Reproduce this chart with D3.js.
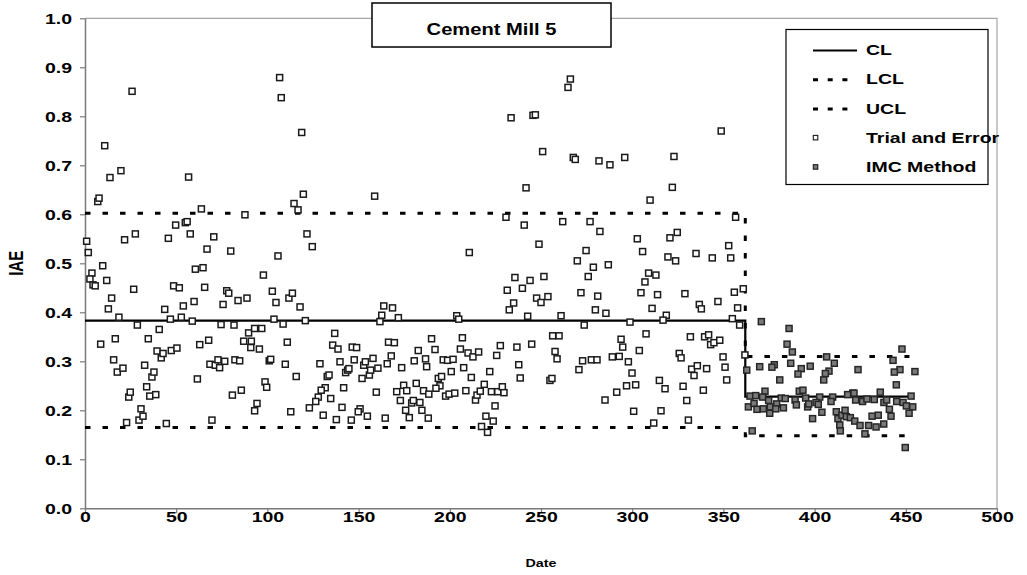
<!DOCTYPE html>
<html><head><meta charset="utf-8">
<script src="https://cdn.jsdelivr.net/npm/d3@7"></script>
<style>
body{margin:0;background:#fff}
text{font-family:"Liberation Sans",Arial,sans-serif;font-weight:bold;fill:#000}
</style></head>
<body><svg id="chart" width="1027" height="575"></svg>
<script>
const chartTitle = "Cement Mill 5";
const xTicks = [0,50,100,150,200,250,300,350,400,450,500];
const yTicks = [0,0.1,0.2,0.3,0.4,0.5,0.6,0.7,0.8,0.9,1.0];
const legendLabels = ["CL","LCL","UCL","Trial and Error","IMC Method"];

const trialDate = [
25.8,10.8,13.7,19.7,56.8,7.0,7.7,63.8,87.7,49.7,
55.0,56.0,0.9,21.7,27.6,45.7,57.7,70.6,1.8,66.9,
79.9,9.7,60.5,64.7,3.8,2.7,4.4,5.6,11.9,14.6,
12.8,18.6,26.7,28.7,8.6,16.6,15.7,17.7,20.8,24.0,
24.8,22.8,29.6,31.8,30.7,32.7,33.8,35.5,36.7,37.8,
38.8,34.7,40.7,43.7,39.5,41.8,42.8,44.6,47.3,50.4,
46.8,48.6,51.7,52.8,53.9,59.8,58.8,65.6,61.6,62.9,
67.8,69.6,68.5,71.4,72.9,73.8,76.6,75.7,77.7,78.8,
74.6,81.7,80.8,85.7,82.2,84.8,83.9,88.8,89.7,93.0,
87.0,91.2,90.9,93.0,94.3,106.7,107.6,118.8,119.7,114.6,
116.8,158.8,121.7,124.6,105.8,97.8,102.7,104.7,111.8,113.7,
117.9,103.6,108.6,120.8,96.9,95.6,110.9,101.0,101.8,109.8,
115.8,98.7,99.6,112.8,128.8,132.8,133.8,136.9,135.8,138.7,
139.8,131.7,129.5,127.9,126.5,123.0,134.7,130.6,137.8,141.8,
140.9,142.9,144.0,144.7,146.0,146.5,148.9,147.6,152.8,153.7,
155.9,151.9,156.6,157.9,160.6,150.8,149.8,154.8,159.7,164.6,
163.8,168.6,162.7,161.7,171.8,166.4,169.6,165.7,167.9,173.6,
170.9,174.7,176.4,172.9,175.8,177.8,179.1,180.0,181.6,183.6,
184.7,185.6,188.5,188.2,182.7,180.5,186.7,187.3,190.0,266.1,
264.8,233.6,245.6,246.9,250.9,267.7,268.8,281.8,241.8,230.8,
240.8,261.9,276.9,282.3,210.7,248.9,274.7,269.9,278.7,275.9,
235.7,244.0,251.6,239.8,231.5,247.6,250.0,253.8,235.0,232.6,
271.9,281.1,279.8,203.8,204.9,242.7,261.0,273.7,206.9,191.9,
205.8,196.4,198.8,201.8,210.0,212.7,215.8,225.7,227.7,236.8,
244.9,237.8,238.6,207.6,200.8,211.8,221.9,257.7,258.8,256.4,
259.9,270.8,272.8,277.6,280.7,254.9,256.0,193.7,195.5,194.6,
192.4,197.7,199.6,202.7,208.8,214.1,214.9,216.7,218.9,222.8,
226.3,228.8,229.7,224.8,219.8,223.8,217.4,220.7,348.8,287.8,
295.9,322.9,322.0,309.8,356.7,302.8,320.7,324.7,305.7,319.6,
323.8,335.0,343.9,352.9,354.0,286.9,309.0,313.0,307.0,304.8,
313.9,328.9,285.6,336.8,337.9,347.0,356.0,360.9,357.8,310.9,
298.8,318.7,316.9,354.9,358.9,307.6,293.9,294.8,303.9,289.1,
292.9,297.9,299.9,296.9,301.9,291.5,285.1,300.8,311.8,315.8,
314.9,318.0,327.9,329.9,330.8,325.8,326.8,331.9,332.6,335.7,
333.9,340.8,339.0,339.7,341.9,343.0,344.8,348.0,349.8,350.9,
351.8,361.8];
const trialIAE = [
0.851,0.740,0.675,0.689,0.676,0.626,0.633,0.611,0.599,0.578,
0.583,0.585,0.545,0.548,0.560,0.551,0.560,0.554,0.522,0.529,
0.525,0.495,0.488,0.491,0.480,0.468,0.456,0.454,0.465,0.429,
0.407,0.390,0.447,0.374,0.335,0.346,0.303,0.278,0.286,0.227,
0.237,0.175,0.180,0.188,0.203,0.292,0.248,0.229,0.268,0.278,
0.232,0.346,0.365,0.406,0.321,0.307,0.316,0.173,0.322,0.327,
0.386,0.454,0.450,0.390,0.413,0.422,0.382,0.451,0.264,0.334,
0.343,0.180,0.294,0.292,0.303,0.287,0.300,0.416,0.444,0.439,
0.375,0.374,0.231,0.241,0.303,0.301,0.424,0.429,0.358,0.367,
0.341,0.341,0.328,0.199,0.214,0.879,0.838,0.767,0.641,0.622,
0.609,0.637,0.560,0.534,0.515,0.476,0.443,0.420,0.429,0.439,
0.411,0.386,0.376,0.383,0.367,0.325,0.339,0.301,0.304,0.294,
0.269,0.258,0.247,0.197,0.295,0.269,0.272,0.357,0.333,0.325,
0.299,0.246,0.241,0.227,0.218,0.205,0.224,0.190,0.181,0.246,
0.206,0.277,0.282,0.285,0.180,0.329,0.328,0.303,0.292,0.299,
0.272,0.265,0.282,0.306,0.286,0.203,0.197,0.188,0.237,0.184,
0.413,0.409,0.394,0.381,0.389,0.339,0.338,0.295,0.311,0.287,
0.238,0.251,0.240,0.220,0.200,0.185,0.215,0.220,0.255,0.216,
0.200,0.240,0.233,0.184,0.322,0.301,0.305,0.289,0.346,0.876,
0.859,0.797,0.802,0.803,0.728,0.716,0.712,0.709,0.654,0.594,
0.578,0.585,0.585,0.565,0.522,0.539,0.526,0.505,0.492,0.473,
0.471,0.465,0.473,0.449,0.445,0.429,0.420,0.432,0.419,0.405,
0.440,0.433,0.405,0.393,0.386,0.392,0.393,0.374,0.348,0.324,
0.325,0.303,0.302,0.304,0.317,0.309,0.319,0.312,0.332,0.329,
0.335,0.293,0.266,0.287,0.279,0.267,0.279,0.320,0.305,0.352,
0.352,0.283,0.301,0.303,0.303,0.261,0.265,0.265,0.269,0.250,
0.245,0.229,0.233,0.235,0.240,0.221,0.231,0.239,0.253,0.238,
0.238,0.248,0.236,0.209,0.188,0.178,0.167,0.155,0.770,0.701,
0.716,0.718,0.655,0.629,0.594,0.550,0.552,0.563,0.524,0.513,
0.505,0.520,0.511,0.536,0.511,0.497,0.480,0.476,0.462,0.440,
0.436,0.438,0.398,0.416,0.407,0.422,0.441,0.448,0.409,0.408,
0.380,0.394,0.384,0.387,0.374,0.356,0.345,0.329,0.322,0.309,
0.310,0.299,0.276,0.250,0.252,0.237,0.221,0.198,0.174,0.199,
0.261,0.244,0.249,0.220,0.180,0.316,0.307,0.350,0.284,0.291,
0.271,0.285,0.241,0.350,0.354,0.334,0.338,0.343,0.309,0.288,
0.262,0.313];

const imcDate = [
362.8,365.8,369.9,370.8,386.0,384.9,387.8,447.9,406.6,443.0,
410.8,386.9,377.9,376.6,392.7,397.6,390.9,407.9,405.9,423.8,
446.8,443.7,455.0,380.9,405.0,444.8,372.8,391.6,393.6,436.0,
420.9,364.6,367.7,371.5,374.8,381.7,383.9,389.3,395.1,402.8,
409.9,418.1,421.6,422.5,426.3,428.7,432.7,438.0,439.5,445.0,
448.5,452.9,441.0,450.3,453.8,451.8,441.9,434.9,431.5,363.7,
366.8,368.4,371.9,375.4,375.7,379.2,378.7,382.9,390.0,396.2,
396.8,398.9,400.8,402.0,404.0,409.0,411.9,412.8,415.0,413.8,
414.1,416.7,417.4,419.6,422.0,424.9,427.6,429.6,433.7,437.9,
449.7];
const imcIAE = [
0.282,0.158,0.289,0.381,0.367,0.335,0.319,0.325,0.309,0.302,
0.296,0.296,0.293,0.288,0.285,0.290,0.274,0.280,0.275,0.283,
0.283,0.278,0.279,0.262,0.262,0.252,0.239,0.239,0.241,0.237,
0.235,0.229,0.230,0.227,0.220,0.225,0.224,0.221,0.225,0.227,
0.227,0.232,0.235,0.221,0.218,0.223,0.222,0.216,0.221,0.218,
0.216,0.229,0.202,0.209,0.207,0.194,0.188,0.190,0.188,0.207,
0.214,0.202,0.203,0.194,0.207,0.213,0.203,0.205,0.211,0.207,
0.213,0.183,0.216,0.212,0.196,0.218,0.197,0.183,0.190,0.170,
0.158,0.200,0.187,0.185,0.178,0.169,0.152,0.169,0.166,0.172,
0.124];

const limitDate = [0,362,362,452];
const clValue  = [0.383,0.383,0.228,0.228];
const uclValue = [0.602,0.602,0.310,0.310];
const lclValue = [0.165,0.165,0.148,0.148];

const SX = 1.3; // horizontal stretch of the original text rendering
const svg = d3.select("#chart");
const x = d3.scaleLinear().domain([0,500]).range([85,997]);
const y = d3.scaleLinear().domain([0,1]).range([508.3,18.3]);

// plot frame (top & right)
svg.append("path")
  .attr("d",`M${x(0)},${y(1)}H${x(500)}V${y(0)}`)
  .attr("fill","none").attr("stroke","#a6a6a6").attr("stroke-width",1.2);

// axes
const xAxis = svg.append("g").attr("transform",`translate(0,${y(0)})`)
  .call(d3.axisBottom(x).tickValues(xTicks).tickSize(5).tickSizeOuter(0).tickFormat(d3.format("d")));
const yAxis = svg.append("g").attr("transform",`translate(${x(0)},0)`)
  .call(d3.axisLeft(y).tickValues(yTicks).tickSize(5).tickSizeOuter(0).tickFormat(d3.format(".1f")));
[xAxis,yAxis].forEach(g=>{
  g.select(".domain").attr("stroke","#7a7a7a").attr("stroke-width",1.5);
  g.selectAll(".tick line").attr("stroke","#7a7a7a").attr("stroke-width",1.2);
  g.selectAll("text").attr("font-size",15).attr("font-family","Liberation Sans, Arial, sans-serif").attr("font-weight","bold").attr("fill","#000");
});
xAxis.selectAll(".tick text").attr("y",13.5).attr("dy",0).attr("transform",`scale(${SX},1)`);
yAxis.selectAll(".tick text").attr("x",0).attr("dy","0.36em").attr("transform",`translate(-13,0) scale(${SX},1)`);

// axis titles
svg.append("text").attr("transform",`translate(23,${y(0.5)}) rotate(-90) scale(1,${SX})`)
  .attr("text-anchor","middle").attr("font-size",15).text("IAE");
svg.append("text").attr("transform",`translate(${x(250)},567) scale(${SX},1)`)
  .attr("text-anchor","middle").attr("font-size",11).text("Date");

// control limit lines
const limLine = d3.line().x((d,i)=>x(limitDate[i])).y(d=>y(d));
svg.append("path").attr("d",limLine(clValue)).attr("fill","none").attr("stroke","#000").attr("stroke-width",2.2);
[uclValue,lclValue].forEach(v=>{
  svg.append("path").attr("d",limLine(v)).attr("fill","none").attr("stroke","#000")
    .attr("stroke-width",3).attr("stroke-dasharray","5.5,12");
});

// points
const S = 6;
svg.append("g").selectAll("rect").data(trialDate).join("rect")
  .attr("x",(d)=>x(d)-S/2).attr("y",(d,i)=>y(trialIAE[i])-S/2)
  .attr("width",S).attr("height",S)
  .attr("fill","#fff").attr("stroke","#1a1a1a").attr("stroke-width",1.5);
svg.append("g").selectAll("rect").data(imcDate).join("rect")
  .attr("x",(d)=>x(d)-S/2).attr("y",(d,i)=>y(imcIAE[i])-S/2)
  .attr("width",S).attr("height",S)
  .attr("fill","#7a7a7a").attr("stroke","#262626").attr("stroke-width",1.5);

// title box
svg.append("rect").attr("x",372).attr("y",3).attr("width",239).attr("height",44)
  .attr("fill","#fff").attr("stroke","#000").attr("stroke-width",1.5);
svg.append("text").attr("transform",`translate(491.5,35) scale(1.26,1)`)
  .attr("text-anchor","middle").attr("font-size",16).text(chartTitle);

// legend
const lg = svg.append("g");
lg.append("rect").attr("x",786).attr("y",29.5).attr("width",202).attr("height",155)
  .attr("fill","#fff").attr("stroke","#000").attr("stroke-width",1.2);
const baseY = [55,84.3,113.6,142.9,172.2];
legendLabels.forEach((lab,i)=>{
  const by = baseY[i];
  lg.append("text").attr("transform",`translate(866,${by}) scale(${SX},1)`)
    .attr("font-size",15).text(lab);
  if(i===0){
    lg.append("line").attr("x1",813).attr("x2",857).attr("y1",by-4.5).attr("y2",by-4.5)
      .attr("stroke","#000").attr("stroke-width",2.2);
  } else if(i<3){
    lg.append("line").attr("x1",813).attr("x2",848).attr("y1",by-4.5).attr("y2",by-4.5)
      .attr("stroke","#000").attr("stroke-width",3).attr("stroke-dasharray","5,9.7");
  } else {
    lg.append("rect").attr("x",813.3).attr("y",by-7.5).attr("width",4.5).attr("height",4.5)
      .attr("fill",i===3?"#fff":"#7a7a7a").attr("stroke","#1a1a1a").attr("stroke-width",1.1);
  }
});
</script></body></html>
